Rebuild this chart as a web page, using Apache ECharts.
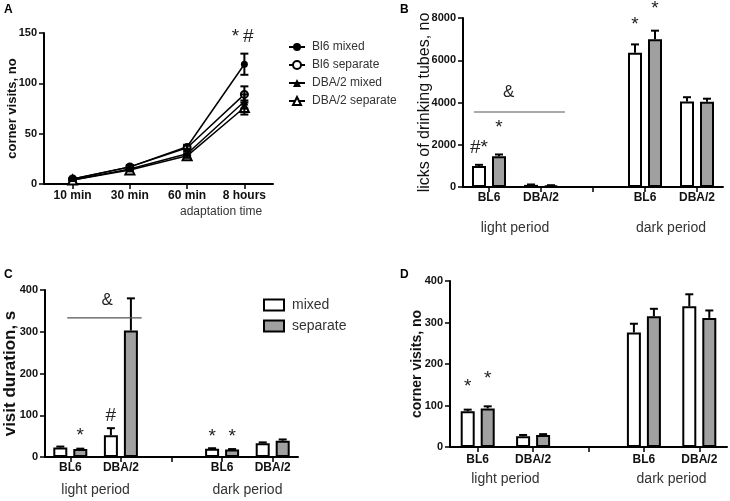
<!DOCTYPE html>
<html><head><meta charset="utf-8">
<script src="https://cdn.jsdelivr.net/npm/echarts@6/dist/echarts.min.js"></script>
<style>html,body{margin:0;padding:0;background:#fff}#c{width:730px;height:501px}</style>
</head><body><div id="c"></div>
<script>
// ---------- Panel A data ----------
const timeCats = ['10 min', '30 min', '60 min', '8 hours'];
const bl6Mixed = [5, 17, 37, 119];
const bl6MixedErr = [1, 1.5, 2, 10.5];
const bl6Separate = [5, 17, 36, 89];
const bl6SeparateErr = [1, 1.5, 2, 8];
const dbaMixed = [4, 15, 30, 82];
const dbaMixedErr = [1, 1.5, 2, 7];
const dbaSeparate = [4, 14, 28, 76];
const dbaSeparateErr = [1, 1.5, 2, 7];
const annotA = [[3, 0, 146, '*'], [3, 1, 146, '#']];

// ---------- Panels B-D data ----------
const strainCats = ['BL6', 'DBA/2', '', 'BL6', 'DBA/2'];
const periodLabels = [[0, 1, 'light period'], [3, 4, 'dark period']];

const licksMixed = [1000, 100, null, 6350, 4050];
const licksMixedErr = [50, 20, null, 400, 200];
const licksSeparate = [1450, 70, null, 7000, 4030];
const licksSeparateErr = [90, 15, null, 400, 150];
const annotB = [[0, 'mixed', 1850, '#*'], [0, 'separate', 2800, '*'], [3, 'mixed', 7700, '*'], [3, 'separate', 8450, '*']];
const ampB = [0, 1, 3550, 4500, '&'];

const durMixed = [23, 52, null, 20, 33];
const durMixedErr = [2, 17, null, 1, 2];
const durSeparate = [19, 303, null, 18, 39];
const durSeparateErr = [1, 77, null, 1, 3];
const annotC = [[0, 'separate', 52, '*'], [1, 'mixed', 98, '#'], [3, 'mixed', 48, '*'], [3, 'separate', 48, '*']];
const ampC = [0, 1, 333, 376, '&'];

const visitsMixed = [86, 26, null, 276, 339];
const visitsMixedErr = [4, 3, null, 21, 29];
const visitsSeparate = [93, 29, null, 315, 311];
const visitsSeparateErr = [5, 2, null, 18, 18];
const annotD = [[0, 'mixed', 145, '*'], [0, 'separate', 164, '*']];

// ---------- styles ----------
const FONT = 'Arial, "Liberation Sans", sans-serif';
const BW = 14, BGAP = 6, BOFF = (BW + BGAP) / 2;
const GRAY = '#a0a0a0';

const chart = echarts.init(document.getElementById('c'), null, {renderer: 'canvas'});

function yAxisCfg(grid, min, max, interval, name, nameSize, nameWeight, nameGap) {
  return {
    type: 'value', gridIndex: grid, min, max, interval,
    name, nameLocation: 'middle', nameGap, nameMoveOverlap: false,
    nameTextStyle: {fontFamily: FONT, fontSize: nameSize, fontWeight: nameWeight, color: '#111'},
    axisLine: {show: true, lineStyle: {color: '#000', width: 2}},
    axisTick: {show: true, length: 5, lineStyle: {color: '#000', width: 1.5}},
    axisLabel: {fontFamily: FONT, fontSize: 11, fontWeight: 'bold', color: '#111', margin: 7,
      formatter: v => String(v)},
    splitLine: {show: false}
  };
}
function xAxisCfg(grid, cats, margin) {
  return {
    type: 'category', gridIndex: grid, data: cats, boundaryGap: true,
    axisLine: {show: true, lineStyle: {color: '#000', width: 2}},
    axisTick: {show: true, alignWithLabel: true, length: 5, lineStyle: {color: '#000', width: 1.5}},
    axisLabel: {fontFamily: FONT, fontSize: 12, fontWeight: 'bold', color: '#111', margin, interval: 0},
    splitLine: {show: false}
  };
}

function errBarSeries(axis, vals, errs, off, both, cap) {
  const data = [];
  vals.forEach((v, i) => { if (v != null) data.push([i, v, errs[i]]); });
  return {
    type: 'custom', xAxisIndex: axis, yAxisIndex: axis, clip: false, z: 5, silent: true,
    renderItem: (params, api) => {
      const c = api.value(0), v = api.value(1), e = api.value(2);
      const base = api.coord([c, v]);
      const top = api.coord([c, v + e]);
      const bot = api.coord([c, v - e]);
      const x = base[0] + off;
      const st = {stroke: '#000', lineWidth: 2};
      const ch = [
        {type: 'line', shape: {x1: x, y1: both ? bot[1] : base[1], x2: x, y2: top[1]}, style: st},
        {type: 'line', shape: {x1: x - cap, y1: top[1], x2: x + cap, y2: top[1]}, style: st}
      ];
      if (both) ch.push({type: 'line', shape: {x1: x - cap, y1: bot[1], x2: x + cap, y2: bot[1]}, style: st});
      return {type: 'group', children: ch};
    },
    data
  };
}

function annotSeries(axis, list, offs) {
  return {
    type: 'custom', xAxisIndex: axis, yAxisIndex: axis, clip: false, z: 6, silent: true,
    renderItem: (params, api) => {
      const a = list[params.dataIndex];
      const p = api.coord([a[0], a[2]]);
      const o = offs[a[1]];
      return {type: 'text', x: p[0] + o, y: p[1],
        style: {text: a[3], fontFamily: FONT, fontSize: 19, fill: '#222', align: 'center', verticalAlign: 'middle'}};
    },
    data: list.map(a => [a[0], a[2]])
  };
}

function ampSeries(axis, amp, ext0, ext1, tPos) {
  return {
    type: 'custom', xAxisIndex: axis, yAxisIndex: axis, clip: false, z: 6, silent: true,
    renderItem: (params, api) => {
      const band = api.size([1, 0])[0];
      const p0 = api.coord([amp[0], amp[2]]);
      const p1 = api.coord([amp[1], amp[2]]);
      const pl = api.coord([amp[0], amp[3]]);
      const x0 = p0[0] + ext0 * band, x1 = p1[0] + ext1 * band;
      return {type: 'group', children: [
        {type: 'line', shape: {x1: x0, y1: p0[1], x2: x1, y2: p0[1]}, style: {stroke: '#555', lineWidth: 1.2}},
        {type: 'text', x: p0[0] + tPos * (p1[0] - p0[0]), y: pl[1],
          style: {text: amp[4], fontFamily: FONT, fontSize: 17, fill: '#222', align: 'center', verticalAlign: 'middle'}}
      ]};
    },
    data: [[amp[0], amp[2]]]
  };
}

function periodSeries(axis, dy) {
  return {
    type: 'custom', xAxisIndex: axis, yAxisIndex: axis, clip: false, z: 6, silent: true,
    renderItem: (params, api) => {
      const a = periodLabels[params.dataIndex];
      const p0 = api.coord([a[0], 0]);
      const p1 = api.coord([a[1], 0]);
      return {type: 'text', x: (p0[0] + p1[0]) / 2, y: p0[1] + dy,
        style: {text: a[2], fontFamily: FONT, fontSize: 14, fill: '#333', align: 'center', verticalAlign: 'middle'}};
    },
    data: periodLabels.map(a => [a[0], 0])
  };
}

function barPair(axis, mixed, separate) {
  return [
    {name: 'mixed', type: 'bar', xAxisIndex: axis, yAxisIndex: axis, data: mixed, barWidth: BW, barGap: (BGAP / BW * 100) + '%',
      itemStyle: {color: '#fff', borderColor: '#000', borderWidth: 2}, z: 3},
    {name: 'separate', type: 'bar', xAxisIndex: axis, yAxisIndex: axis, data: separate, barWidth: BW, barGap: (BGAP / BW * 100) + '%',
      itemStyle: {color: GRAY, borderColor: '#000', borderWidth: 2}, z: 3}
  ];
}

function lineSeries(name, data, symbol, filled, size) {
  return {
    name, type: 'line', xAxisIndex: 0, yAxisIndex: 0, data, symbol, symbolSize: size,
    showSymbol: true, z: 4,
    lineStyle: {color: '#000', width: 1.5},
    itemStyle: {color: filled ? '#000' : '#fff', borderColor: '#000', borderWidth: filled ? 0 : 2}
  };
}

const offs = {mixed: -BOFF, separate: BOFF};

const option = {
  animation: false,
  backgroundColor: '#fff',
  textStyle: {fontFamily: FONT},
  grid: [
    {left: 44, top: 33, width: 229, height: 151},
    {left: 463, top: 18, width: 260, height: 169},
    {left: 45, top: 290, width: 253, height: 167},
    {left: 450, top: 281, width: 277, height: 166}
  ],
  xAxis: [
    xAxisCfg(0, timeCats, 6),
    xAxisCfg(1, strainCats, 5),
    xAxisCfg(2, strainCats, 5),
    xAxisCfg(3, strainCats, 7)
  ],
  yAxis: [
    yAxisCfg(0, 0, 150, 50, 'corner visits, no', 13, 'bold', 25),
    yAxisCfg(1, 0, 8000, 2000, 'licks of drinking tubes, no', 16, 'normal', 30),
    yAxisCfg(2, 0, 400, 100, 'visit duration, s', 17, 'bold', 26),
    yAxisCfg(3, 0, 400, 100, 'corner visits, no', 14, 'bold', 26)
  ],
  legend: [
    {data: ['Bl6 mixed', 'Bl6 separate', 'DBA/2 mixed', 'DBA/2 separate'], orient: 'vertical',
      left: 283, top: 36, itemWidth: 16, itemHeight: 10, itemGap: 6,
      textStyle: {fontFamily: FONT, fontSize: 12, color: '#333', padding: [0, 0, 0, 2]}},
    {data: ['mixed', 'separate'], orient: 'vertical', left: 258, top: 293, itemWidth: 20, itemHeight: 11, itemGap: 7,
      icon: 'rect', textStyle: {fontFamily: FONT, fontSize: 14, color: '#333', padding: [0, 0, 0, 3]}}
  ],
  graphic: [
    {type: 'text', left: 4, top: 4, style: {text: 'A', fontFamily: FONT, fontSize: 12, fontWeight: 'bold', fill: '#000'}},
    {type: 'text', left: 400, top: 4, style: {text: 'B', fontFamily: FONT, fontSize: 12, fontWeight: 'bold', fill: '#000'}},
    {type: 'text', left: 4, top: 269, style: {text: 'C', fontFamily: FONT, fontSize: 12, fontWeight: 'bold', fill: '#000'}},
    {type: 'text', left: 400, top: 269, style: {text: 'D', fontFamily: FONT, fontSize: 12, fontWeight: 'bold', fill: '#000'}},
    {type: 'text', left: 180, top: 206, style: {text: 'adaptation time', fontFamily: FONT, fontSize: 12, fill: '#333'}}
  ],
  series: [
    lineSeries('Bl6 mixed', bl6Mixed, 'circle', true, 7),
    lineSeries('Bl6 separate', bl6Separate, 'circle', false, 7),
    lineSeries('DBA/2 mixed', dbaMixed, 'triangle', true, 8),
    lineSeries('DBA/2 separate', dbaSeparate, 'triangle', false, 9),
    errBarSeries(0, bl6Mixed, bl6MixedErr, 0, true, 4),
    errBarSeries(0, bl6Separate, bl6SeparateErr, 0, true, 4),
    errBarSeries(0, dbaMixed, dbaMixedErr, 0, true, 4),
    errBarSeries(0, dbaSeparate, dbaSeparateErr, 0, true, 4),
    annotSeries(0, annotA, {0: -9, 1: 4}),

    ...barPair(1, licksMixed, licksSeparate),
    errBarSeries(1, licksMixed, licksMixedErr, -BOFF, false, 4),
    errBarSeries(1, licksSeparate, licksSeparateErr, BOFF, false, 4),
    annotSeries(1, annotB, offs),
    ampSeries(1, ampB, -0.29, 0.46, 0.38),
    periodSeries(1, 41),

    ...barPair(2, durMixed, durSeparate),
    errBarSeries(2, durMixed, durMixedErr, -BOFF, false, 4),
    errBarSeries(2, durSeparate, durSeparateErr, BOFF, false, 4),
    annotSeries(2, annotC, offs),
    ampSeries(2, ampC, -0.06, 0.41, 0.73),
    periodSeries(2, 33),

    ...barPair(3, visitsMixed, visitsSeparate),
    errBarSeries(3, visitsMixed, visitsMixedErr, -BOFF, false, 4),
    errBarSeries(3, visitsSeparate, visitsSeparateErr, BOFF, false, 4),
    annotSeries(3, annotD, offs),
    periodSeries(3, 32)
  ]
};
chart.setOption(option);
</script>
</body></html>
